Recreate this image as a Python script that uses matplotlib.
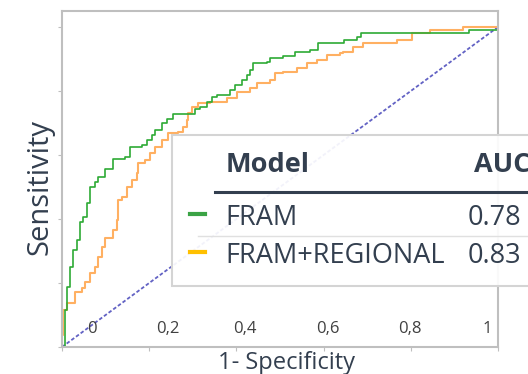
import matplotlib
matplotlib.use("Agg")
import matplotlib.pyplot as plt
from matplotlib.patches import Rectangle
from matplotlib.lines import Line2D

plt.rcParams["font.family"] = ["Open Sans", "DejaVu Sans"]

# ROC curve for FRAM (1-specificity, sensitivity)
fram_fpr = [0, 0.007, 0.007, 0.011, 0.018, 0.025, 0.034, 0.041, 0.048, 0.057,
            0.064, 0.076, 0.083, 0.099, 0.117, 0.144, 0.156, 0.183, 0.195, 0.206,
            0.213, 0.229, 0.241, 0.255, 0.289, 0.305, 0.317, 0.333, 0.344, 0.356,
            0.374, 0.385, 0.397, 0.413, 0.424, 0.431, 0.438, 0.47, 0.477, 0.507,
            0.534, 0.569, 0.587, 0.638, 0.647, 0.677, 0.686, 0.933, 1.0, 1.0]
fram_tpr = [0, 0.013, 0.116, 0.188, 0.25, 0.303, 0.334, 0.391, 0.406, 0.45,
            0.5, 0.516, 0.531, 0.556, 0.588, 0.594, 0.625, 0.631, 0.647, 0.663,
            0.678, 0.7, 0.713, 0.728, 0.728, 0.744, 0.75, 0.766, 0.781, 0.788,
            0.788, 0.803, 0.819, 0.834, 0.85, 0.866, 0.888, 0.891, 0.903, 0.909,
            0.922, 0.928, 0.95, 0.95, 0.959, 0.969, 0.981, 0.991, 0.991, 1.0]

# ROC curve for FRAM+REGIONAL
reg_fpr = [0, 0, 0.002, 0.011, 0.03, 0.046, 0.053, 0.064, 0.076, 0.083,
           0.092, 0.099, 0.117, 0.126, 0.128, 0.138, 0.149, 0.161, 0.172, 0.174,
           0.19, 0.202, 0.213, 0.229, 0.243, 0.266, 0.278, 0.287, 0.289, 0.298,
           0.312, 0.339, 0.378, 0.401, 0.431, 0.447, 0.477, 0.489, 0.507, 0.539,
           0.562, 0.585, 0.608, 0.638, 0.644, 0.667, 0.69, 0.768, 0.803, 0.844,
           0.92, 1.0]
reg_tpr = [0, 0.038, 0.116, 0.138, 0.172, 0.184, 0.203, 0.231, 0.25, 0.281,
           0.313, 0.341, 0.366, 0.397, 0.459, 0.469, 0.5, 0.522, 0.544, 0.575,
           0.584, 0.606, 0.625, 0.647, 0.669, 0.672, 0.688, 0.709, 0.731, 0.75,
           0.763, 0.766, 0.778, 0.797, 0.809, 0.825, 0.834, 0.856, 0.859, 0.872,
           0.888, 0.897, 0.913, 0.919, 0.922, 0.938, 0.95, 0.959, 0.981, 0.991,
           1.0, 1.0]

models = ["FRAM", "FRAM+REGIONAL"]
aucs = ["0.78", "0.83"]
x_labels = ["0", "0,2", "0,4", "0,6", "0,8", "1"]

txt = "#333F4F"
W, H = 528, 374


def fx(px):
    return px / W


def fy(py):
    return 1 - py / H


fig = plt.figure(figsize=(5.28, 3.74), dpi=100)
ax = fig.add_axes([fx(62), fy(347), 436 / W, 336 / H])

ax.plot([0, 1], [0, 1], color="#6262C4", lw=1.3, dashes=(2, 1.2))
ax.plot(reg_fpr, reg_tpr, drawstyle="steps-post", color="#FFB062", lw=1.5)
ax.plot(fram_fpr, fram_tpr, drawstyle="steps-post", color="#2EAA35", lw=1.2)

ax.set_xlim(0, 1)
ax.set_ylim(0, 1.05)
ax.set_xticks([0, 0.2, 0.4, 0.6, 0.8, 1.0])
ax.set_yticks([0, 0.2, 0.4, 0.6, 0.8, 1.0])
ax.tick_params(length=3, color="#BFBFBF", labelbottom=False, labelleft=False)
for s in ax.spines.values():
    s.set_color("#BFBFBF")
    s.set_linewidth(1.5)

fig.text(fx(40), fy(187), "Sensitivity", fontsize=21, color=txt,
         rotation=90, ha="center", va="center")
fig.text(fx(286), fy(363), "1- Specificity", fontsize=17, color=txt,
         ha="center", va="center")

# the shifted tick labels drawn inside the plot
label_px = [92, 168, 245, 328, 410, 487]
for lab, px in zip(x_labels, label_px):
    fig.text(fx(px), fy(329), lab, fontsize=12, color="#404040",
             ha="center", va="center")

# legend table (slightly see-through, cut off at the right edge)
fig.patches.append(Rectangle((fx(172), fy(286)), (W + 10 - 172) / W, 151 / H,
                             transform=fig.transFigure, facecolor=(1, 1, 1, 0.92),
                             edgecolor="#D4D4D4", lw=1.5, zorder=5))
fig.text(fx(226), fy(165), "Model", fontsize=19.5, fontweight="bold",
         color=txt, va="center", zorder=6)
fig.text(fx(474), fy(165), "AUC", fontsize=19.5, fontweight="bold",
         color=txt, va="center", zorder=6)
fig.lines.append(Line2D([fx(215), 1], [fy(192)] * 2, transform=fig.transFigure,
                        color=txt, lw=2.2, zorder=6))
fig.lines.append(Line2D([fx(198), 1], [fy(236)] * 2, transform=fig.transFigure,
                        color="#E0E0E0", lw=1, zorder=6))
row_y = [218, 256]
marker_cols = ["#3BA345", "#FFC000"]
for name, auc, y, c in zip(models, aucs, row_y, marker_cols):
    fig.lines.append(Line2D([fx(190), fx(205)], [fy(y - 4)] * 2,
                            transform=fig.transFigure, color=c, lw=3, zorder=6))
    fig.text(fx(225), fy(y), name, fontsize=19.5, color=txt, va="center", zorder=6)
    fig.text(fx(521), fy(y), auc, fontsize=19.5, color=txt, va="center",
             ha="right", zorder=6)

fig.savefig("out.png", dpi=100)
